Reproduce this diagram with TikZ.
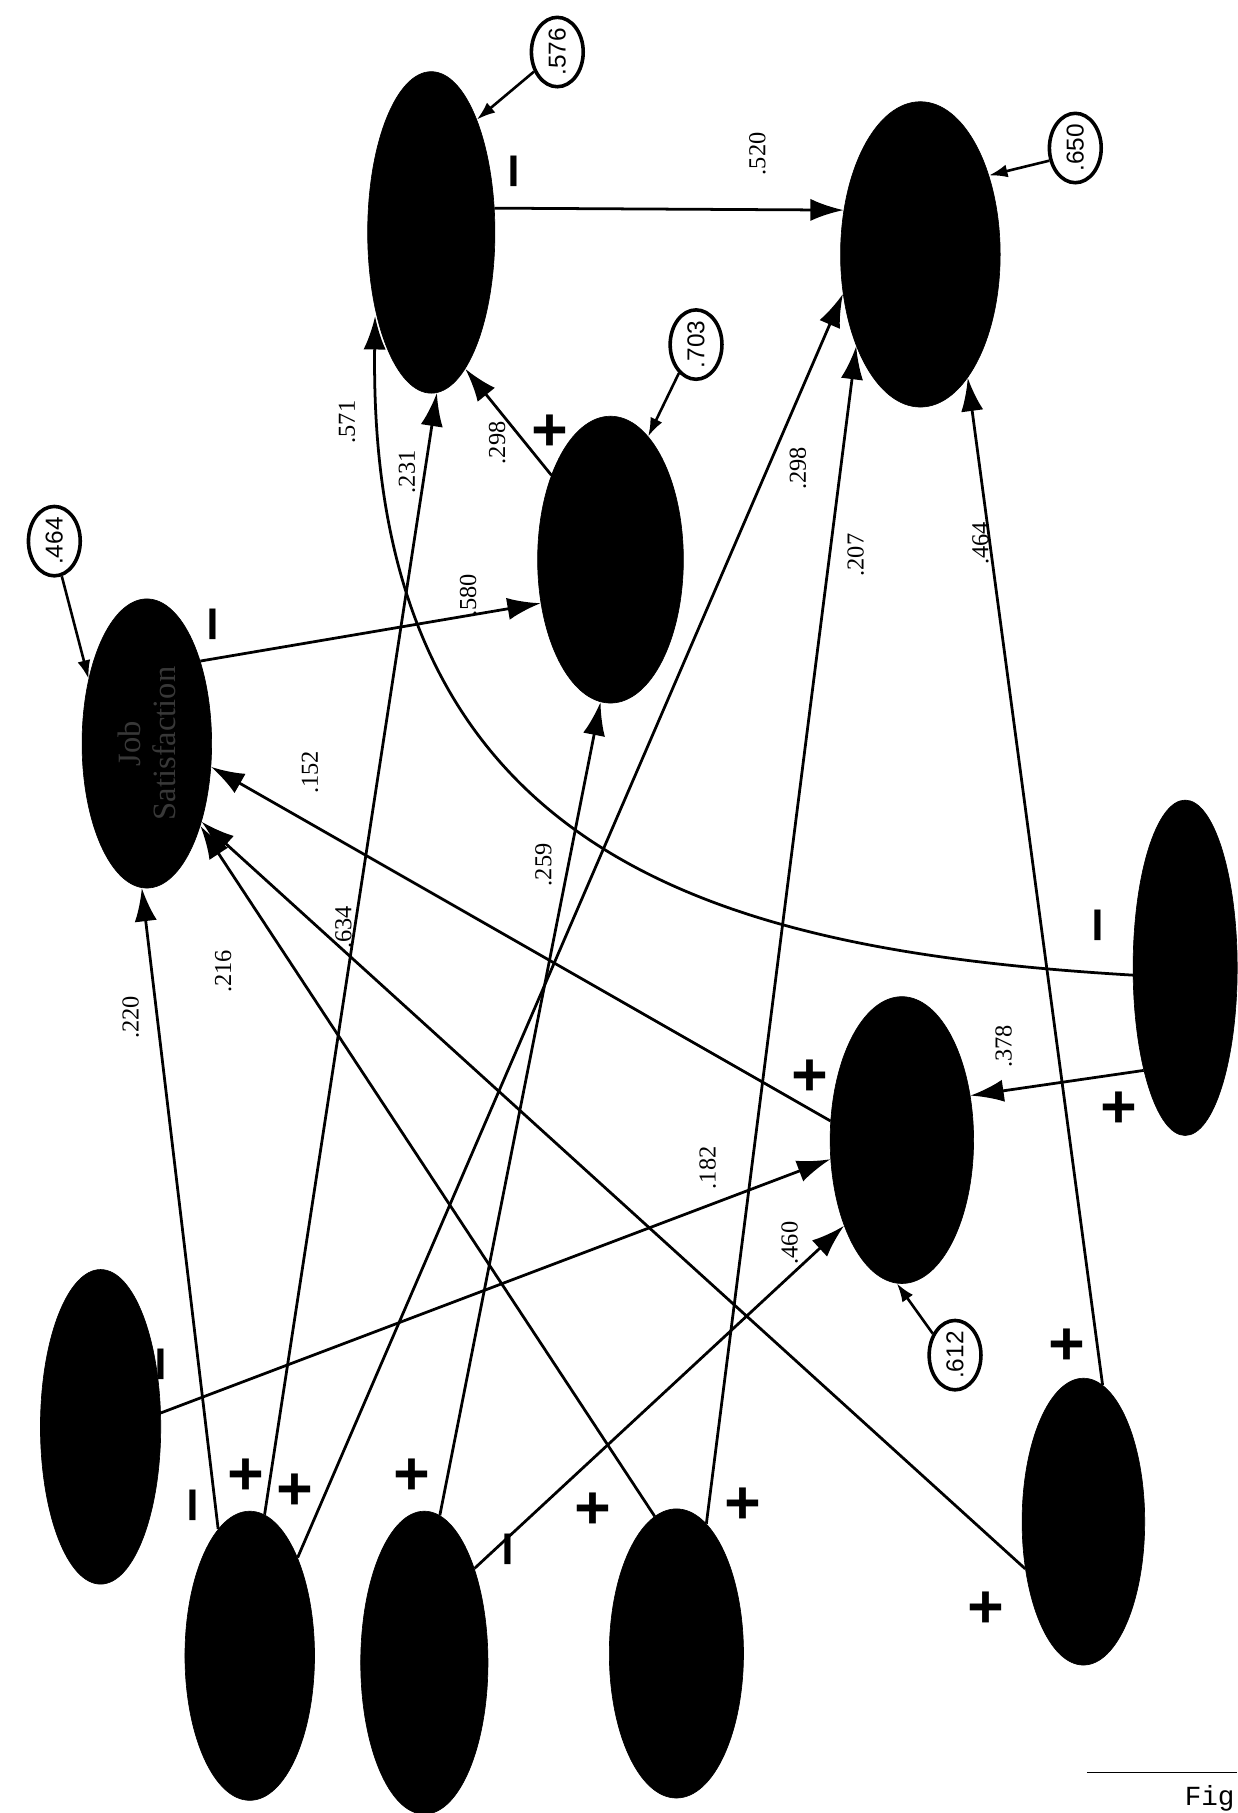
\documentclass[tikz,border=0pt]{standalone}
\usepackage{fontspec}
\usepackage{graphicx}
\setmainfont{Liberation Serif}
\newfontfamily\numfont{Liberation Sans}
\setmonofont{Liberation Mono}
\usetikzlibrary{shapes.geometric,arrows.meta}

\begin{document}
\begin{tikzpicture}[x=0.025cm,y=-0.025cm,
    factor/.style={ellipse,draw,fill=black,inner sep=0pt,minimum width=2.8cm,minimum height=6.25cm},
    errnode/.style={ellipse,draw,line width=2.2pt,inner sep=0pt,minimum width=1.12cm,minimum height=1.5cm,font=\numfont\fontsize{15}{15}\selectfont},
    pathline/.style={line width=1.7pt,-{Latex[length=0.72cm,width=0.48cm]}},
    errline/.style={line width=1.6pt,-{Latex[length=0.4cm,width=0.28cm]}},
    coef/.style={rotate=90,inner sep=1pt,font=\fontsize{15}{15}\selectfont},
    sign/.style={rotate=90,inner sep=0pt,font=\numfont\bfseries\fontsize{38}{38}\selectfont}]
                \useasboundingbox (0,0) rectangle (1070,1568);

                % factors
                \node[factor] (js) at (127,643) {};
                \node[rotate=90,align=center,text=black!78,font=\fontsize{20}{22}\selectfont] (jstext) at (js) {Job\\Satisfaction};
                \node[factor,minimum width=2.75cm,minimum height=6.95cm] (tm) at (373,201) {};
                \node[factor,minimum width=3.45cm,minimum height=6.6cm] (tr) at (796,220) {};
                \node[factor,minimum width=3.15cm,minimum height=6.2cm] (mid) at (528,484) {};
                \node[factor,minimum width=3.1cm,minimum height=6.2cm] (rm) at (780,986) {};
                \node[factor,minimum width=2.25cm,minimum height=7.25cm] (hom) at (1025,837) {};
                \node[factor,minimum width=2.6cm,minimum height=6.8cm] (lt) at (87,1234) {};
                \node[factor] (fa) at (216,1432) {};
                \node[factor,minimum width=2.75cm,minimum height=6.55cm] (fb) at (367,1438) {};
                \node[factor,minimum width=2.9cm] (fc) at (585,1430) {};
                \node[factor,minimum width=2.65cm,minimum height=6.2cm] (fd) at (937,1316) {};

                % residuals
                \node[errnode] (e464) at (47,468) {\rotatebox{90}{.464}};
                \node[errnode] (e576) at (482,45) {\rotatebox{90}{.576}};
                \node[errnode] (e650) at (930,128) {\rotatebox{90}{.650}};
                \node[errnode] (e703) at (602,298) {\rotatebox{90}{.703}};
                \node[errnode] (e612) at (826,1172) {\rotatebox{90}{.612}};
                \draw[errline] (e464.282) -- (js.132);
                \draw[errline] (e576.220) -- (tm.68);
                \draw[errline] (e650.206) -- (tr.49);
                \draw[errline] (e703.239) -- (mid.73);
                \draw[errline] (e612.136) -- (rm.268);

                % paths
                \draw[pathline] (js.57) -- (mid.212);
                \draw[pathline] (tm.21) -- (tr.150);
                \draw[pathline] (mid.125) -- (tm.284);
                \draw[pathline,shorten >=4pt] (hom.188) .. controls (623,822) and (318,744) .. (tm.234);
                \draw[pathline] (hom.248) -- (rm.33);
                \draw[pathline] (rm.165) -- (js.340);
                \draw[pathline] (lt.13) -- (rm.195);
                \draw[pathline] (fa.104) -- (js.268);
                \draw[pathline] (fa.84) -- (tm.272);
                \draw[pathline] (fa.64) -- (tr.207);
                \draw[pathline] (fb.84) -- (mid.266);
                \draw[pathline] (fb.62) -- (rm.236);
                \draw[pathline] (fc.99) -- (js.303);
                \draw[pathline] (fc.77) -- (tr.235);
                \draw[pathline] (fd.219) -- (js.305);
                \draw[pathline] (fd.82) -- (tr.291);

                % coefficients
                \node[coef] (c580) at (405,515) {.580};
                \node[coef] (c520) at (655,133) {.520};
                \node[coef] (c298a) at (430,383) {.298};
                \node[coef] (c571) at (300,365) {.571};
                \node[coef] (c378) at (868,905) {.378};
                \node[coef] (c152) at (268,668) {.152};
                \node[coef] (c182) at (612,1010) {.182};
                \node[coef] (c220) at (113,880) {.220};
                \node[coef] (c231) at (352,408) {.231};
                \node[coef] (c298b) at (690,405) {.298};
                \node[coef] (c259) at (470,748) {.259};
                \node[coef] (c460) at (683,1075) {.460};
                \node[coef] (c216) at (193,840) {.216};
                \node[coef] (c207) at (740,480) {.207};
                \node[coef] (c634) at (297,802) {.634};
                \node[coef] (c464) at (848,470) {.464};

                % signs
                \node[sign] (s580) at (190,540) {\char"2013};
                \node[sign] (s520) at (450,148) {\char"2013};
                \node[sign] (s298a) at (478,372) {+};
                \node[sign] (s571) at (955,800) {\char"2013};
                \node[sign] (s378) at (970,958) {+};
                \node[sign] (s152) at (703,930) {+};
                \node[sign] (s182) at (145,1180) {\char"2013};
                \node[sign] (s220) at (173,1302) {\char"2013};
                \node[sign] (s231) at (215,1275) {+};
                \node[sign] (s298b) at (257,1288) {+};
                \node[sign] (s259) at (358,1275) {+};
                \node[sign] (s460) at (445,1340) {\char"2013};
                \node[sign] (s216) at (515,1305) {+};
                \node[sign] (s207) at (645,1300) {+};
                \node[sign] (s634) at (855,1390) {+};
                \node[sign] (s464) at (925,1163) {+};

                % caption
                \coordinate (capl) at (940,1533);
                \coordinate (capr) at (1070,1533);
                \draw[line width=1pt] (capl) -- (capr);
                \node[anchor=east,inner sep=0pt,font=\ttfamily\fontsize{17}{17}\selectfont] (cap) at (1068,1555) {Fig};
            \end{tikzpicture}
\end{document}
